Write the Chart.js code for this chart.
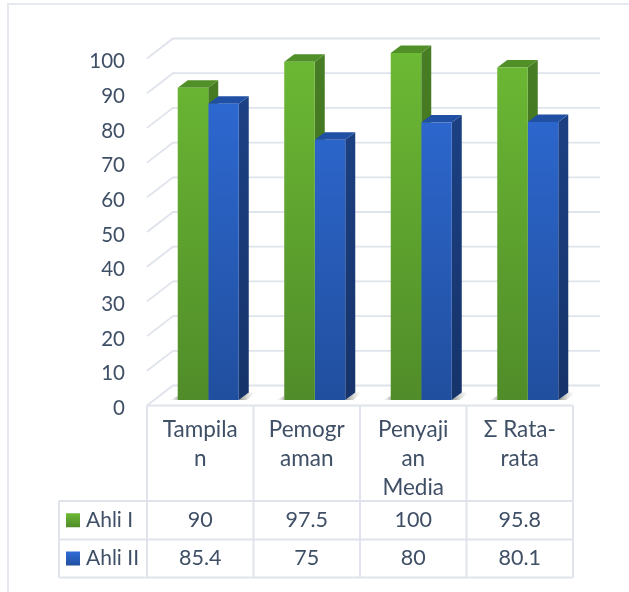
<!DOCTYPE html>
<html>
<head>
<meta charset="utf-8">
<style>
  html, body { margin: 0; padding: 0; background: #fff; }
  canvas { display: block; }
</style>
<script src="https://cdn.jsdelivr.net/npm/chart.js@4/dist/chart.umd.min.js"></script>
</head>
<body>
<canvas id="myChart" width="629" height="592"></canvas>
<script>
// values
const categories = [["Tampila", "n"], ["Pemogr", "aman"], ["Penyaji", "an", "Media"], ["Σ Rata-", "rata"]];
const seriesNames = ["Ahli I", "Ahli II"];
const ahliI = [90, 97.5, 100, 95.8];
const ahliII = [85.4, 75, 80, 80.1];
const yTicks = [0, 10, 20, 30, 40, 50, 60, 70, 80, 90, 100];

const textColor = "#3f4f66";
const lineColor = "#dfe3eb";
const fontName = "Lato, 'Open Sans', sans-serif";

// bars sit a little to the right of the table cells, as in a 3d office chart
const shift = 8;

const green = { top: "#6cb934", bottom: "#508c29", lid: "#518f29", side: "#477d24", sideEnd: "#3d6c1f" };
const blue = { top: "#2f6cd8", bottom: "#214f9f", lid: "#2050a4", side: "#1d4388", sideEnd: "#16336a" };

// fill for the front of a bar, follows the y scale
function frontFill(colors) {
  return function (context) {
    const area = context.chart.chartArea;
    if (!area) return colors.top;
    const grad = context.chart.ctx.createLinearGradient(0, area.top, 0, area.bottom);
    grad.addColorStop(0, colors.top);
    grad.addColorStop(1, colors.bottom);
    return grad;
  };
}

function polygon(ctx, pts, fill) {
  ctx.beginPath();
  pts.forEach(function (p, i) {
    if (i === 0) ctx.moveTo(p[0], p[1]);
    else ctx.lineTo(p[0], p[1]);
  });
  ctx.closePath();
  ctx.fillStyle = fill;
  ctx.fill();
}

// back wall lines, floor and the 3d faces, all under the bars
const walls = {
  id: "walls",
  beforeDatasetsDraw(chart) {
    const ctx = chart.ctx;
    const y = chart.scales.y;
    const area = chart.chartArea;
    const left0 = area.left - shift;
    const right0 = area.right - shift;
    ctx.save();

    // page frame
    ctx.strokeStyle = "#e6e9ef";
    ctx.lineWidth = 2;
    ctx.beginPath();
    ctx.moveTo(8, 592);
    ctx.lineTo(8, 4);
    ctx.lineTo(629, 4);
    ctx.stroke();

    ctx.strokeStyle = lineColor;
    ctx.lineWidth = 1.8;
    yTicks.forEach(function (v) {
      const p = y.getPixelForValue(v);
      ctx.beginPath();
      ctx.moveTo(left0, p + 5.5);
      ctx.lineTo(left0 + 26, p - 14.5);
      ctx.lineTo(right0 + 27, p - 14.5);
      ctx.stroke();
    });

    // shadows on the floor
    const first = chart.getDatasetMeta(0).data;
    const second = chart.getDatasetMeta(1).data;
    first.forEach(function (bar, i) {
      const left = bar.x - bar.width / 2;
      const right = second[i].x + second[i].width / 2;
      const base = bar.base;
      const g = ctx.createLinearGradient(right, 0, right + 17, 0);
      g.addColorStop(0, "rgba(110,110,100,0.75)");
      g.addColorStop(1, "rgba(200,200,190,0)");
      polygon(ctx, [[right, base], [right + 10, base - 7.5], [right + 17, base - 7.5], [right + 8, base]], g);
      const h = ctx.createLinearGradient(left - 8, 0, left, 0);
      h.addColorStop(0, "rgba(200,200,190,0)");
      h.addColorStop(1, "rgba(130,130,120,0.55)");
      polygon(ctx, [[left - 8, base], [left, base - 4], [left, base]], h);
    });

    // side and lid of every bar, first series first so the second lid lands on top
    [[0, green], [1, blue]].forEach(function (item) {
      const colors = item[1];
      chart.getDatasetMeta(item[0]).data.forEach(function (bar) {
        const right = bar.x + bar.width / 2;
        const left = bar.x - bar.width / 2;
        const sideFill = ctx.createLinearGradient(0, area.top, 0, area.bottom);
        sideFill.addColorStop(0, colors.side);
        sideFill.addColorStop(1, colors.sideEnd);
        polygon(ctx, [[right, bar.y], [right + 10, bar.y - 7.5], [right + 10, bar.base - 7.5], [right, bar.base]], sideFill);
        polygon(ctx, [[left, bar.y], [left + 10, bar.y - 7.5], [right + 10, bar.y - 7.5], [right, bar.y]], colors.lid);
      });
    });
    ctx.restore();
  },
};

// the data table under the plot
const dataTable = {
  id: "dataTable",
  afterDraw(chart) {
    const ctx = chart.ctx;
    const x = chart.scales.x;
    const area = chart.chartArea;
    const left0 = area.left - shift;
    const right0 = area.right - shift;
    const step = (right0 - left0) / categories.length;
    const legendLeft = 59;
    const rows = [501, 539.5, 577.5];
    const top = 405.5;
    ctx.save();
    ctx.strokeStyle = lineColor;
    ctx.lineWidth = 2;
    ctx.beginPath();
    ctx.moveTo(left0, top);
    ctx.lineTo(right0, top);
    rows.forEach(function (r) {
      ctx.moveTo(legendLeft, r);
      ctx.lineTo(right0, r);
    });
    ctx.moveTo(legendLeft, rows[0]);
    ctx.lineTo(legendLeft, rows[2]);
    for (let i = 0; i <= categories.length; i++) {
      ctx.moveTo(left0 + step * i, top);
      ctx.lineTo(left0 + step * i, rows[2]);
    }
    ctx.stroke();

    ctx.textBaseline = "middle";
    [ahliI, ahliII].forEach(function (values, r) {
      const mid = (rows[r] + rows[r + 1]) / 2;
      const colors = r === 0 ? green : blue;
      const swatch = ctx.createLinearGradient(0, mid - 7, 0, mid + 7);
      swatch.addColorStop(0, colors.top);
      swatch.addColorStop(1, colors.bottom);
      ctx.fillStyle = swatch;
      ctx.fillRect(66, mid - 7, 14, 14);
      ctx.fillStyle = textColor;
      ctx.textAlign = "left";
      ctx.font = "21px " + fontName;
      ctx.fillText(seriesNames[r], 86, mid);
      ctx.textAlign = "center";
      ctx.font = "21.5px " + fontName;
      values.forEach(function (v, i) {
        ctx.fillText(String(v), x.getPixelForTick(i) - shift, mid);
      });
    });
    ctx.restore();
  },
};

const data = {
  labels: categories,
  datasets: [
    { label: seriesNames[0], data: ahliI, backgroundColor: frontFill(green) },
    { label: seriesNames[1], data: ahliII, backgroundColor: frontFill(blue) },
  ],
};

const config = {
  type: "bar",
  data: data,
  plugins: [walls, dataTable],
  options: {
    responsive: false,
    animation: false,
    layout: { padding: { top: 53, right: 48, left: 0, bottom: 0 } },
    plugins: {
      legend: { display: false },
      tooltip: { enabled: false },
    },
    datasets: {
      bar: { barPercentage: 1, categoryPercentage: 0.573, borderWidth: 0 },
    },
    scales: {
      x: {
        grid: { display: false },
        border: { display: false },
        afterFit: function (scale) { scale.height = 192; },
        ticks: {
          color: textColor,
          font: { family: fontName, size: 22.5, lineHeight: 1.3 },
          padding: 7,
          labelOffset: -shift,
          maxRotation: 0,
          autoSkip: false,
        },
      },
      y: {
        min: 0,
        max: 100,
        grid: { display: false, drawTicks: false },
        border: { display: false },
        afterFit: function (scale) { scale.width = 155; },
        afterBuildTicks: function (scale) {
          scale.ticks = yTicks.map(function (v) { return { value: v }; });
        },
        ticks: {
          color: textColor,
          font: { family: fontName, size: 20.5 },
          padding: 30,
          labelOffset: 8.5,
        },
      },
    },
  },
};

const myChart = new Chart(document.getElementById("myChart"), config);
</script>
</body>
</html>
